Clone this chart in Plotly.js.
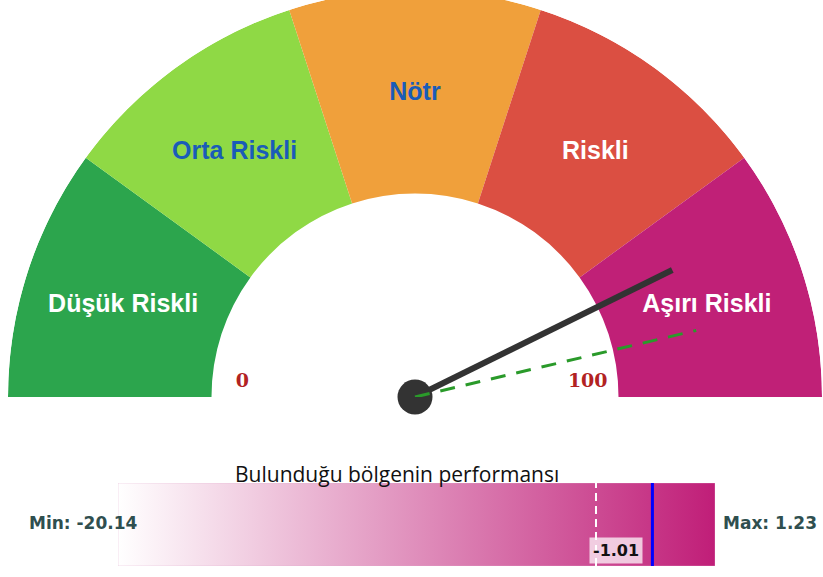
<!DOCTYPE html>
<html>
<head>
<meta charset="utf-8">
<script src="https://cdn.plot.ly/plotly-3.0.1.min.js"></script>
<style>
  html, body { margin: 0; padding: 0; background: #ffffff; overflow: hidden; width: 823px; height: 577px; }
  #chart { position: absolute; left: 0; top: -10px; width: 823px; height: 587px; }
</style>
</head>
<body>
<div id="chart"></div>
<script>
// ---- data ----
const categories = ['Düşük Riskli', 'Orta Riskli', 'Nötr', 'Riskli', 'Aşırı Riskli'];
const bandStart = [0, 20, 40, 60, 80];
const bandEnd = [20, 40, 60, 80, 100];
const bandColors = ['#2ca54d', '#8fd945', '#f0a03b', '#db4f42', '#c02077'];
const labelColors = ['#ffffff', '#1a5cb8', '#1a5cb8', '#ffffff', '#ffffff'];
const gaugeTickValues = [0, 100];
const gaugeTickLabels = ['0', '100'];
const needleValue = 85.4;
const markerValue = 92.6;

const perfMin = -20.14;
const perfMax = 1.23;
const perfValue = -1.01;
const perfReference = -3.03;
const perfTitle = 'Bulunduğu bölgenin performansı';

// ---- helpers: gauge value (0..100) -> angular position (degrees, clockwise from west) ----
const toTheta = v => v * 180 / 100;
const bandMid = bandStart.map((s, i) => (s + bandEnd[i]) / 2);
const bandWidth = bandStart.map((s, i) => toTheta(bandEnd[i] - s));
const tickLabelLift = 5; // degrees, lifts the 0 / 100 labels above the baseline

const polarBase = {subplot: 'polar', hoverinfo: 'skip', showlegend: false};

const traces = [
  Object.assign({
    type: 'barpolar',
    theta: bandMid.map(toTheta),
    width: bandWidth,
    r: categories.map(() => 0.5),
    base: categories.map(() => 0.5),
    marker: {color: bandColors, line: {width: 0}}
  }, polarBase),
  {
    type: 'scatterpolar', mode: 'text', subplot: 'polar2', hoverinfo: 'skip', showlegend: false,
    theta: bandMid.map(toTheta),
    r: categories.map(() => 0.754),
    text: categories,
    textposition: 'middle center',
    textfont: {family: 'Liberation Sans, Arial, sans-serif', size: 25, weight: 'bold', color: labelColors},
    cliponaxis: false
  },
  Object.assign({
    type: 'scatterpolar', mode: 'text',
    theta: gaugeTickValues.map(v => toTheta(v) + (v === gaugeTickValues[0] ? tickLabelLift : -tickLabelLift)),
    r: gaugeTickValues.map(() => 0.426),
    text: gaugeTickLabels,
    textposition: 'middle center',
    textfont: {family: 'DejaVu Serif, serif', size: 19, weight: 'bold', color: '#b22222'},
    cliponaxis: false
  }, polarBase),
  Object.assign({
    type: 'scatterpolar', mode: 'markers',
    theta: [toTheta(needleValue)], r: [0],
    marker: {size: 35, color: '#333333'},
    cliponaxis: false
  }, polarBase),
  Object.assign({
    type: 'scatterpolar', mode: 'lines',
    theta: [toTheta(needleValue), toTheta(needleValue)], r: [0, 0.705],
    line: {color: '#333333', width: 6},
    cliponaxis: false
  }, polarBase),
  Object.assign({
    type: 'scatterpolar', mode: 'lines',
    theta: [toTheta(markerValue), toTheta(markerValue)], r: [0, 0.71],
    line: {color: '#2a9a2a', width: 3, dash: '15px,11px'},
    cliponaxis: false
  }, polarBase),
  // performance bar
  {
    type: 'scatter', mode: 'lines', xaxis: 'x', yaxis: 'y',
    x: [perfMin, perfMax, perfMax, perfMin, perfMin],
    y: [0, 0, 1, 1, 0],
    fill: 'toself',
    fillgradient: {type: 'horizontal', colorscale: [[0, '#ffffff'], [1, '#c01e78']]},
    line: {color: 'rgba(225,170,205,0.4)', width: 1},
    hoverinfo: 'skip', showlegend: false
  },
  {
    type: 'scatter', mode: 'lines', xaxis: 'x', yaxis: 'y',
    x: [perfReference, perfReference], y: [0, 1],
    line: {color: '#ffffff', width: 2, dash: '8px,5px'},
    hoverinfo: 'skip', showlegend: false
  },
  {
    type: 'scatter', mode: 'lines', xaxis: 'x', yaxis: 'y',
    x: [perfValue, perfValue], y: [0, 1],
    line: {color: '#0000ff', width: 3},
    hoverinfo: 'skip', showlegend: false
  }
];

const W = 823, H = 587;
const hiddenRadial = {visible: false, range: [0, 1], showgrid: false, showline: false, showticklabels: false, ticks: ''};
const hiddenAngular = {visible: false, rotation: 180, direction: 'clockwise', showgrid: false, showline: false, showticklabels: false, ticks: ''};
const labelDrop = 3.8; // px, label layer sits slightly lower than the gauge
const layout = {
  width: W, height: H,
  margin: {l: 0, r: 0, t: 0, b: 0, pad: 0},
  paper_bgcolor: '#ffffff',
  plot_bgcolor: 'rgba(0,0,0,0)',
  showlegend: false,
  polar: {
    domain: {x: [8 / W, 822 / W], y: [(H - 407) / H, 1]},
    sector: [0, 180], hole: 0, bgcolor: 'rgba(0,0,0,0)',
    radialaxis: hiddenRadial, angularaxis: hiddenAngular
  },
  polar2: {
    domain: {x: [8 / W, 822 / W], y: [(H - 407 - labelDrop) / H, 1 - labelDrop / H]},
    sector: [0, 180], hole: 0, bgcolor: 'rgba(0,0,0,0)',
    radialaxis: hiddenRadial, angularaxis: hiddenAngular
  },
  xaxis: {domain: [118 / W, 715 / W], range: [perfMin, perfMax], visible: false, fixedrange: true},
  yaxis: {domain: [(H - 576) / H, (H - 493) / H], range: [0, 1], visible: false, fixedrange: true},
  annotations: [
    {xref: 'paper', yref: 'paper', x: 396.5 / W, y: (H - 484) / H, xanchor: 'center', yanchor: 'middle',
     text: perfTitle, showarrow: false, font: {family: 'Open Sans, sans-serif', size: 21, color: '#111111'}},
    {xref: 'paper', yref: 'paper', x: 83 / W, y: (H - 533) / H, xanchor: 'center', yanchor: 'middle',
     text: 'Min: ' + perfMin.toFixed(2), showarrow: false,
     font: {family: 'DejaVu Sans, sans-serif', size: 17, weight: 'bold', color: '#2f4f4f'}},
    {xref: 'paper', yref: 'paper', x: 770 / W, y: (H - 533) / H, xanchor: 'center', yanchor: 'middle',
     text: 'Max: ' + perfMax.toFixed(2), showarrow: false,
     font: {family: 'DejaVu Sans, sans-serif', size: 17, weight: 'bold', color: '#2f4f4f'}},
    {xref: 'x', yref: 'y', x: perfValue, y: 0.187, xanchor: 'right', yanchor: 'middle', xshift: -9,
     text: perfValue.toFixed(2), showarrow: false, bgcolor: 'rgba(255,255,255,0.72)', borderpad: 3,
     font: {family: 'DejaVu Sans, sans-serif', size: 16, weight: 'bold', color: '#111111'}}
  ]
};

Plotly.newPlot('chart', traces, layout, {staticPlot: true, displayModeBar: false});
</script>
</body>
</html>
